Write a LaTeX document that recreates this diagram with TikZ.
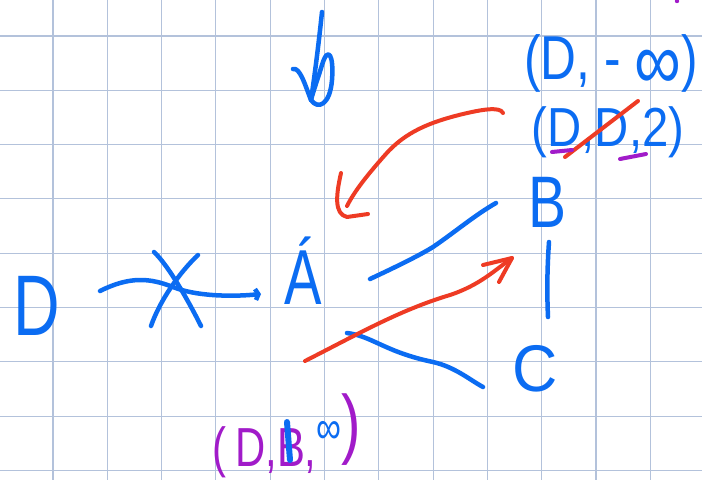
\documentclass[tikz,border=0pt]{standalone}
\usepackage{fontspec}
\setmainfont{Liberation Sans}
\usetikzlibrary{arrows.meta}
\definecolor{inkblue}{HTML}{0B6CF2}
\definecolor{inkred}{HTML}{EE3B24}
\definecolor{inkpurple}{HTML}{A11BC9}
\definecolor{gridc}{HTML}{B3C2DB}
\newcommand\fsz[1]{\fontsize{#1}{#1}\selectfont}
\begin{document}
\begin{tikzpicture}[x=1pt,y=-1pt,
  gridline/.style={gridc, line width=1.1pt},
  blueink/.style={inkblue, line width=4.5pt, line cap=round, line join=round},
  redink/.style={inkred, line width=4pt, line cap=round, line join=round},
  purpleink/.style={inkpurple, line width=4pt, line cap=round},
  letter/.style={inkblue, inner sep=0pt, anchor=base},
]
\fill[white] (0,0) rectangle (702,480);
\useasboundingbox (0,0) rectangle (702,480);
\foreach \i in {0,...,11} \draw[gridline] ({53+54.3*\i},0) -- ({53+54.3*\i},480);
\foreach \j in {0,...,8} \draw[gridline] (0,{36+54.3*\j}) -- (702,{36+54.3*\j});

% letters
\node[letter, font=\fsz{86}] (D) at (37,335) {\scalebox{0.75}[1]{D}};
\node[letter, font=\fsz{78}] (A) at (303,304) {\scalebox{0.72}[1]{\'A}};
\node[letter, font=\fsz{73}] (B) at (547,227) {\scalebox{0.78}[1]{B}};
\node[letter, font=\fsz{66}] (C) at (535,391) {\scalebox{0.95}[1]{C}};

% tuples
\node[letter, font=\fsz{62}] (t1) at (611,79) {\scalebox{0.8}[1]{(D, - \raisebox{-10pt}{\fsz{82}∞})}};
\node[letter, font=\fsz{55}] (t2) at (608,146) {\scalebox{0.86}[1]{(D,D,2)}};
\node[letter, anchor=base west, font=\fsz{55}, text=inkpurple] (t3) at (212,466)
  {\scalebox{0.76}[1]{(\kern12pt D,B,\raisebox{23pt}{\fsz{46}\color{inkblue}∞}\raisebox{17pt}{\fsz{77})}}};

% marks on tuples
\draw[blueink, line width=6pt] (287,422) -- (290,460);
\draw[redink] (565,157) -- (638,101);
\draw[purpleink] (552,152) -- (572,150);
\draw[purpleink] (620,159) -- (646,154);
\fill[inkpurple] (677,1) circle (2.2);

% down arrow at top
\coordinate (v1) at (322,12);
\coordinate (v2) at (311,100);
\coordinate (v3) at (293,69);
\draw[blueink] (v1) .. controls (318,50) and (314,80) .. (v2);
\draw[blueink] (v3) .. controls (300,67) and (305,85) .. (v2);
\draw[blueink] (v2) .. controls (318,110) and (330,105) .. (332,80)
  .. controls (334,55) and (328,45) .. (322,65) .. controls (318,78) and (313,92) .. (v2);

% D -> A arrow, crossed out
\coordinate (da1) at (100,291);
\coordinate (da2) at (261,294);
\draw[blueink, -{Straight Barb[length=3pt,width=11pt]}] (da1) .. controls (130,276) and (150,278) .. (173,287)
  .. controls (195,296) and (230,297) .. (da2);
\coordinate (x1) at (154,252);
\coordinate (x2) at (201,326);
\coordinate (x3) at (198,255);
\coordinate (x4) at (151,326);
\draw[blueink] (x1) .. controls (168,265) and (188,300) .. (x2);
\draw[blueink] (x3) .. controls (180,272) and (160,300) .. (x4);

% A - B and A - C
\coordinate (ab1) at (370,279);
\coordinate (ab2) at (496,203);
\draw[blueink] (ab1) .. controls (400,265) and (420,255) .. (433,247)
  .. controls (455,232) and (475,215) .. (ab2);
\coordinate (ac1) at (347,333);
\coordinate (ac2) at (483,387);
\draw[blueink] (ac1) .. controls (372,336) and (385,352) .. (433,362)
  .. controls (455,367) and (470,380) .. (ac2);

% B - C
\coordinate (bc1) at (549,242);
\coordinate (bc2) at (548,317);
\draw[blueink] (bc1) .. controls (547,270) and (547,295) .. (bc2);

% red arrow lower
\coordinate (r1) at (305,361);
\coordinate (r2) at (512,258);
\draw[redink] (r1) .. controls (360,333) and (400,310) .. (450,295)
  .. controls (480,285) and (495,270) .. (r2);
\draw[redink] (483,265) -- (r2) -- (499,282);

% red curved arrow upper
\coordinate (u1) at (503,113);
\coordinate (u2) at (347,206);
\draw[redink] (u1) .. controls (500,106) and (480,110) .. (463,114)
  .. controls (430,122) and (405,132) .. (385,155)
  .. controls (370,172) and (355,190) .. (u2);
\draw[redink] (341,173) .. controls (336,195) and (334,214) .. (347,217) -- (368,214);
\end{tikzpicture}
\end{document}
